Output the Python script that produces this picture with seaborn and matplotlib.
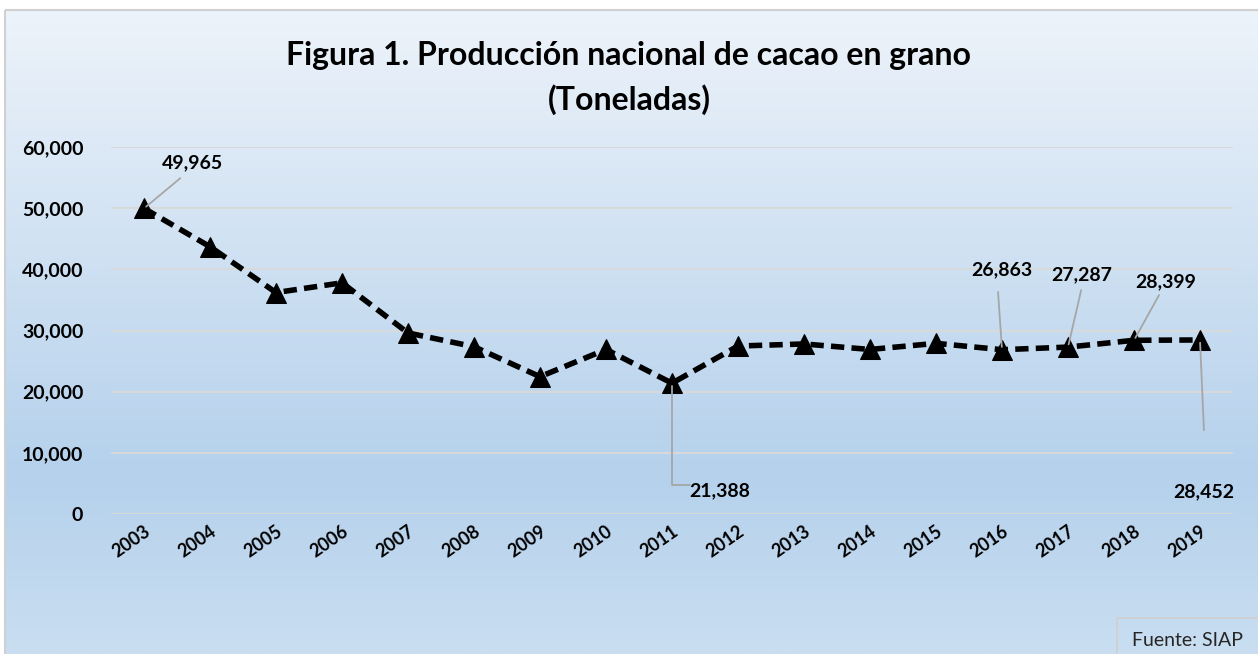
import numpy as np
import pandas as pd
import seaborn as sns
import matplotlib.pyplot as plt
from matplotlib.colors import LinearSegmentedColormap
from matplotlib.patches import Rectangle

# datos (toneladas)
anios = list(range(2003, 2020))
toneladas = [49965, 43700, 36200, 37800, 29600, 27350, 22450, 26900, 21388,
             27460, 27800, 26900, 27900, 26863, 27287, 28399, 28452]

# etiquetas visibles: anio -> (x texto, y texto, x fin guia, y fin guia)
etiquetas = {
    2003: (2003.74, 57400, 2003.55, 54900),
    2011: (2011.73, 3800, 2011.27, 4700),
    2016: (2016.0, 39900, 2015.94, 36300),
    2017: (2017.2, 39100, 2017.2, 36600),
    2018: (2018.48, 37900, 2018.38, 35800),
    2019: (2019.06, 3600, 2019.06, 13700),
}

df = pd.DataFrame({'anio': anios, 'ton': toneladas})

sns.set_style('white')
plt.rcParams['font.family'] = ['Lato', 'DejaVu Sans']
plt.rcParams['text.color'] = 'black'
plt.rcParams['xtick.color'] = 'black'
plt.rcParams['ytick.color'] = 'black'

fig = plt.figure(figsize=(12.58, 6.54), dpi=100)

# fondo degradado
bg = fig.add_axes([0, 0, 1, 1], zorder=0)
cmap = LinearSegmentedColormap.from_list(
    'fondo', [(0.0, (237/255, 243/255, 250/255)),
              (0.72, (181/255, 209/255, 236/255)),
              (1.0, (201/255, 222/255, 241/255))])
grad = np.linspace(0, 1, 256).reshape(-1, 1)
bg.imshow(grad, aspect='auto', cmap=cmap, extent=[5, 1258, 654, 10])
bg.set_xlim(0, 1258)
bg.set_ylim(654, 0)
bg.add_patch(Rectangle((5, 10), 1260, 650, fill=False, ec='#d0d0d0', lw=1.5))
bg.axis('off')

ax = fig.add_axes([111/1258, 1 - 514/654, (1233 - 111)/1258, (514 - 147)/654], zorder=1)
ax.patch.set_alpha(0)

sns.lineplot(data=df, x='anio', y='ton', ax=ax, color='black', lw=4,
             linestyle=(0, (2.4, 1.3)), marker='^', markersize=14,
             markeredgecolor='black')

ax.set_xlim(anios[0] - 0.5, anios[-1] + 0.5)
ax.set_ylim(0, 60000)
ax.set_yticks(range(0, 60001, 10000))
ax.set_yticklabels([f'{v:,}' for v in range(0, 60001, 10000)],
                   fontsize=14, fontweight='bold')
ax.set_xticks(anios)
ax.set_xticklabels([str(a) for a in anios], rotation=35, ha='right',
                   rotation_mode='anchor', fontsize=13, fontweight='bold')
ax.tick_params(axis='both', length=0)
ax.tick_params(axis='y', pad=20)
ax.tick_params(axis='x', pad=6)
ax.grid(axis='y', color='#d9d9d9', lw=1.4)
ax.set_axisbelow(True)
for s in ax.spines.values():
    s.set_visible(False)
ax.set_xlabel('')
ax.set_ylabel('')

for anio, (tx, ty, lx, ly) in etiquetas.items():
    val = toneladas[anios.index(anio)]
    cs = 'arc3'
    if anio == 2011:
        cs = 'angle,angleA=0,angleB=90,rad=0'
    ax.annotate('', xy=(anio, val), xytext=(lx, ly),
                arrowprops=dict(arrowstyle='-', color='#a6a6a6', lw=1.3,
                                connectionstyle=cs, shrinkA=0, shrinkB=2))
    ax.text(tx, ty, f'{val:,}', ha='center', va='center', fontsize=14,
            fontweight='bold')

fig.text(0.5, 1 - 55/654, 'Figura 1. Producción nacional de cacao en grano',
         ha='center', va='center', fontsize=23, fontweight='bold')
fig.text(0.5, 1 - 100/654, '(Toneladas)', ha='center', va='center',
         fontsize=23, fontweight='bold')

# fuente
bg.add_patch(Rectangle((1117, 618), 150, 40, fill=False, ec='#d0d0d0', lw=1.3))
bg.text(1187, 640, 'Fuente: SIAP', ha='center', va='center', fontsize=14,
        color='#262626')

fig.savefig('out.png', dpi=100)
